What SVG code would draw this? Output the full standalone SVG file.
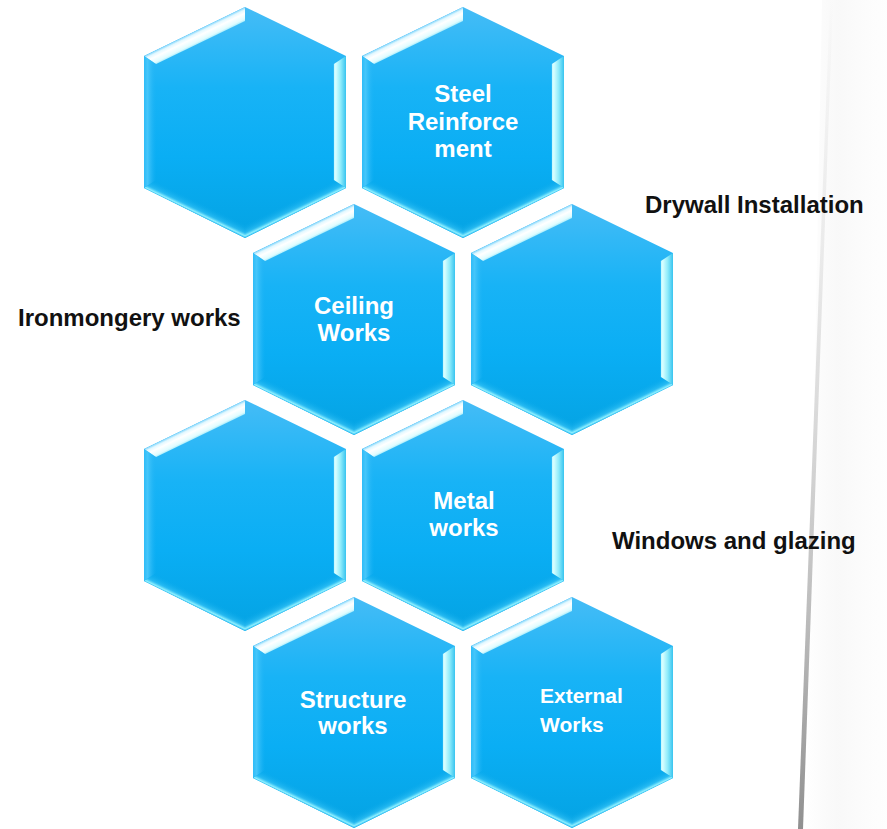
<svg xmlns="http://www.w3.org/2000/svg" xmlns:xlink="http://www.w3.org/1999/xlink" width="887" height="829" viewBox="0 0 887 829">
<style>
.lbl{font-family:"Liberation Sans",Arial,sans-serif;font-weight:bold;fill:#ffffff;font-size:24px;text-anchor:middle}
.ext{font-family:"Liberation Sans",Arial,sans-serif;font-weight:bold;fill:#ffffff;font-size:21px}
.out{font-family:"Liberation Sans",Arial,sans-serif;font-weight:bold;fill:#111111;font-size:24px}
</style>
<defs>
<linearGradient id="gFill" gradientUnits="userSpaceOnUse" x1="0" y1="0" x2="0" y2="231">
<stop offset="0" stop-color="#45bcf6"/>
<stop offset="0.35" stop-color="#18b3f6"/>
<stop offset="0.65" stop-color="#0aaef4"/>
<stop offset="1" stop-color="#04a3e3"/>
</linearGradient>
<linearGradient id="gTL" gradientUnits="userSpaceOnUse" x1="-50.5" y1="24.5" x2="-45.05" y2="35.7">
<stop offset="0" stop-color="#7fd4fb"/>
<stop offset="0.2" stop-color="#e2f8ff"/>
<stop offset="0.45" stop-color="#ffffff"/>
<stop offset="0.85" stop-color="#e0fcff"/>
<stop offset="1" stop-color="#aeeefc"/>
</linearGradient>
<linearGradient id="gR" gradientUnits="userSpaceOnUse" x1="101" y1="0" x2="88.9" y2="0">
<stop offset="0" stop-color="#38c4ef"/>
<stop offset="0.45" stop-color="#90ecfb"/>
<stop offset="0.85" stop-color="#d8ffff"/>
<stop offset="1" stop-color="#c0f6ff"/>
</linearGradient>
<linearGradient id="gBL" gradientUnits="userSpaceOnUse" x1="-50.5" y1="206" x2="-45.05" y2="194.8">
<stop offset="0" stop-color="#3ac4f5"/>
<stop offset="0.12" stop-color="#8ff0ff"/>
<stop offset="0.35" stop-color="#3cc6f7" stop-opacity="0.6"/>
<stop offset="1" stop-color="#05a6e8" stop-opacity="0"/>
</linearGradient>
<linearGradient id="gBR" gradientUnits="userSpaceOnUse" x1="50.5" y1="206" x2="45.05" y2="194.8">
<stop offset="0" stop-color="#3ac4f5"/>
<stop offset="0.12" stop-color="#8ff0ff"/>
<stop offset="0.35" stop-color="#3cc6f7" stop-opacity="0.6"/>
<stop offset="1" stop-color="#05a6e8" stop-opacity="0"/>
</linearGradient>
<linearGradient id="gL" gradientUnits="userSpaceOnUse" x1="-101" y1="0" x2="-88.9" y2="0">
<stop offset="0" stop-color="#2ebcf8"/>
<stop offset="0.3" stop-color="#46c6fa"/>
<stop offset="1" stop-color="#20b4f5" stop-opacity="0"/>
</linearGradient>
<linearGradient id="gLine" x1="0" y1="0" x2="0" y2="1">
<stop offset="0" stop-color="#d0d0d0" stop-opacity="0"/>
<stop offset="0.3" stop-color="#dadada" stop-opacity="0.5"/>
<stop offset="0.75" stop-color="#bbbbbb"/>
<stop offset="1" stop-color="#909090"/>
</linearGradient>
<linearGradient id="gBand" x1="0" y1="0" x2="1" y2="0">
<stop offset="0" stop-color="#eeeeee" stop-opacity="0"/>
<stop offset="0.4" stop-color="#f2f2f2" stop-opacity="0.5"/>
<stop offset="1" stop-color="#f8f8f8" stop-opacity="0.2"/>
</linearGradient>
<g id="hex">
<polygon points="0,0 101,49 101,181 0,231 -101,181 -101,49" fill="url(#gFill)"/>
<polygon points="-101,49 0,0 0,13.9 -88.9,57" fill="url(#gTL)"/>
<polygon points="101,49 101,181 88.9,173.1 88.9,57" fill="url(#gR)"/>
<polygon points="101,181 0,231 0,217.1 88.9,173.1" fill="url(#gBR)"/>
<polygon points="0,231 -101,181 -88.9,173.1 0,217.1" fill="url(#gBL)"/>
<polygon points="-101,181 -101,49 -88.9,57 -88.9,173.1" fill="url(#gL)"/>
</g>
</defs>
<rect x="0" y="0" width="887" height="829" fill="#ffffff"/>
<g id="background">
<polygon points="822,0 887,0 887,829 806,829" fill="url(#gBand)"/>
<polygon points="830,0 833,0 803,829 798,829" fill="url(#gLine)"/>
</g>
<g id="connectors"/>
<g id="node-hex1"><use xlink:href="#hex" transform="translate(245,7)"/></g>
<g id="node-steel"><use xlink:href="#hex" transform="translate(463,7)"/>
<text class="lbl" x="463" y="102">Steel</text>
<text class="lbl" x="463" y="130">Reinforce</text>
<text class="lbl" x="463" y="157">ment</text></g>
<g id="node-ceiling"><use xlink:href="#hex" transform="translate(354,204)"/>
<text class="lbl" x="354" y="314">Ceiling</text>
<text class="lbl" x="354" y="341">Works</text></g>
<g id="node-hex4"><use xlink:href="#hex" transform="translate(572,204)"/></g>
<g id="node-hex5"><use xlink:href="#hex" transform="translate(245,400)"/></g>
<g id="node-metal"><use xlink:href="#hex" transform="translate(463,400)"/>
<text class="lbl" x="464" y="509">Metal</text>
<text class="lbl" x="464" y="536">works</text></g>
<g id="node-structure"><use xlink:href="#hex" transform="translate(354,597)"/>
<text class="lbl" x="353" y="708">Structure</text>
<text class="lbl" x="353" y="734">works</text></g>
<g id="node-external"><use xlink:href="#hex" transform="translate(572,597)"/>
<text class="ext" x="540" y="703">External</text>
<text class="ext" x="540" y="732">Works</text></g>
<g id="label-drywall"><text class="out" x="645" y="213">Drywall Installation</text></g>
<g id="label-ironmongery"><text class="out" x="18" y="326">Ironmongery works</text></g>
<g id="label-windows"><text class="out" x="612" y="549">Windows and glazing</text></g>
</svg>
